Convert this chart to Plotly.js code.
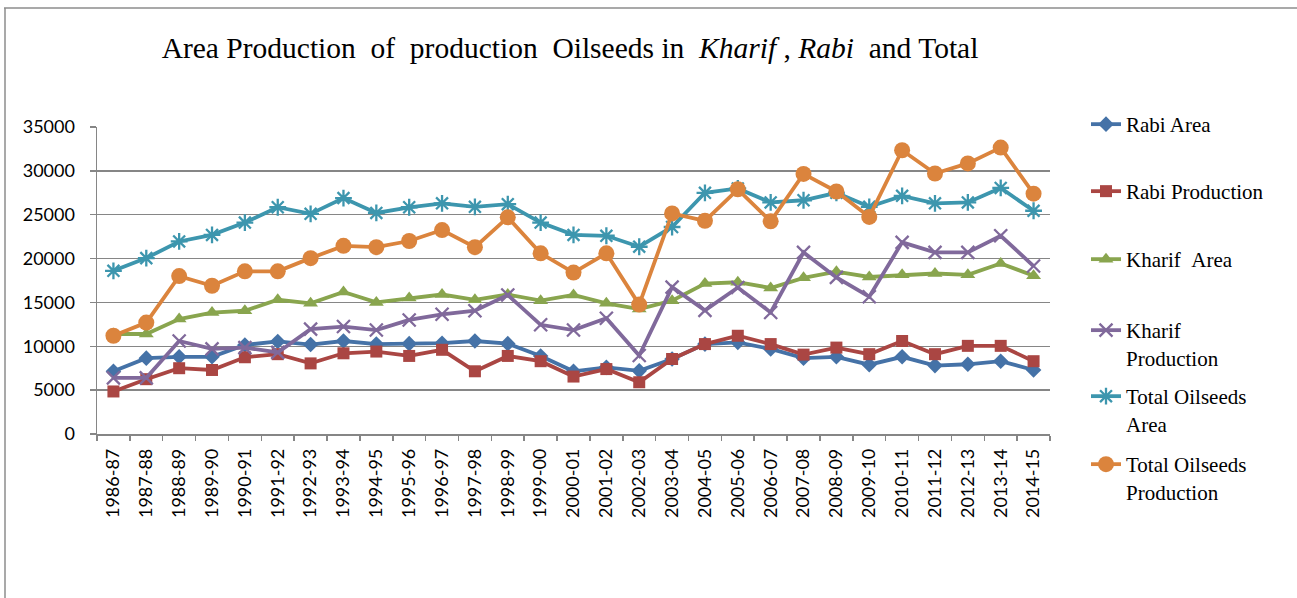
<!DOCTYPE html>
<html>
<head>
<meta charset="utf-8">
<script src="https://cdn.plot.ly/plotly-3.0.1.min.js"></script>
<style>
html,body{margin:0;padding:0;background:#fff;}
#chart{width:1297px;height:598px;}
</style>
</head>
<body>
<div id="chart"></div>
<script>
const years = ["1986-87","1987-88","1988-89","1989-90","1990-91","1991-92","1992-93","1993-94","1994-95","1995-96","1996-97","1997-98","1998-99","1999-00","2000-01","2001-02","2002-03","2003-04","2004-05","2005-06","2006-07","2007-08","2008-09","2009-10","2010-11","2011-12","2012-13","2013-14","2014-15"];

const rabiArea = [7150,8650,8800,8800,10150,10550,10200,10600,10250,10300,10350,10600,10300,8900,7150,7600,7200,8550,10250,10450,9700,8650,8800,7900,8800,7800,7950,8300,7300];
const rabiProduction = [4850,6250,7500,7300,8750,9100,8050,9200,9400,8900,9600,7150,8900,8300,6550,7400,5900,8550,10250,11200,10250,9050,9850,9100,10600,9100,10050,10050,8300];
const kharifArea = [11400,11400,13100,13850,14050,15300,14900,16200,15000,15500,15900,15300,15900,15200,15850,14900,14250,15200,17150,17300,16650,17800,18500,17900,18150,18300,18150,19450,18050];
const kharifProduction = [6400,6400,10600,9700,9850,9300,11950,12250,11850,13000,13650,14050,15850,12450,11850,13200,8950,16750,14100,16700,13850,20700,17850,15650,21850,20700,20700,22600,19150];
const totalArea = [18600,20050,21950,22700,24100,25850,25100,26900,25200,25850,26300,25900,26200,24100,22700,22600,21350,23600,27500,28000,26400,26650,27500,25900,27150,26300,26400,28050,25450];
const totalProduction = [11200,12700,18000,16900,18550,18550,20050,21450,21300,22000,23250,21300,24700,20600,18400,20600,14750,25150,24300,27900,24250,29650,27650,24750,32350,29700,30850,32650,27400];

const seriesNames = ["Rabi Area","Rabi Production","Kharif&#160;&#160;Area","Kharif<br>Production","Total Oilseeds<br>Area","Total Oilseeds<br>Production"];
const seriesValues = [rabiArea, rabiProduction, kharifArea, kharifProduction, totalArea, totalProduction];
const colors = ["#4572A7","#AA4643","#89A54E","#80699B","#3D96AE","#DB843D"];
const symbols = ["diamond","square","triangle-up","x-thin-open","asterisk-open","circle"];
const sizes = [12,12,13,13,14,16];
const legendCenters = [124,191,259,330,396,464];

const plotTop = 127, plotBottom = 434, plotLeft = 97, plotRight = 1050;
const ph = plotBottom - plotTop, pw = plotRight - plotLeft;

const traces = seriesValues.map((vals, i) => {
  const open = symbols[i].indexOf("open") >= 0;
  return {
    type: "scatter",
    mode: "lines+markers",
    x: years,
    y: vals,
    name: seriesNames[i],
    legend: i === 0 ? "legend" : "legend" + (i + 1),
    line: {color: colors[i], width: 3.8},
    marker: {
      symbol: symbols[i],
      size: sizes[i],
      color: colors[i],
      line: {color: colors[i], width: open ? 2.3 : 0}
    }
  };
});

const layout = {
  width: 1297,
  height: 598,
  paper_bgcolor: "#ffffff",
  plot_bgcolor: "#ffffff",
  margin: {l: plotLeft, r: 1297 - plotRight, t: plotTop, b: 598 - plotBottom, pad: 0},
  title: {
    text: "Area Production&#160; of&#160; production&#160; Oilseeds in&#160; <i>Kharif</i> , <i>Rabi</i>&#160; and Total",
    font: {family: "Liberation Serif, Times New Roman, serif", size: 29.5, color: "#000"},
    x: 570 / 1297, xref: "container", xanchor: "center",
    y: 1 - 48 / 598, yref: "container", yanchor: "middle"
  },
  xaxis: {
    type: "category",
    range: [-0.5, years.length - 0.5],
    showgrid: false,
    showline: true,
    linecolor: "#868686",
    linewidth: 1.5,
    ticks: "outside",
    tickson: "boundaries",
    ticklen: 5,
    tickcolor: "#868686",
    tickwidth: 1.5,
    tickangle: -90,
    tickfont: {family: "Lato, Calibri, sans-serif", size: 18, color: "#000"},
    ticklabelstandoff: 6,
    fixedrange: true
  },
  yaxis: {
    range: [0, 35000],
    dtick: 5000,
    tick0: 0,
    tickformat: "d",
    showgrid: true,
    gridcolor: "#868686",
    gridwidth: 1.5,
    showline: true,
    linecolor: "#868686",
    linewidth: 1.5,
    zeroline: false,
    ticks: "outside",
    ticklen: 6,
    tickcolor: "#868686",
    tickwidth: 1.5,
    tickfont: {family: "Lato, Calibri, sans-serif", size: 18, color: "#000"},
    ticklabelstandoff: 11,
    fixedrange: true
  },
  shapes: [
    {type: "line", xref: "paper", yref: "paper",
     x0: (4 - plotLeft) / pw, x1: (1300 - plotLeft) / pw,
     y0: (plotBottom - 8) / ph, y1: (plotBottom - 8) / ph,
     line: {color: "#8c8c8c", width: 1.5}},
    {type: "line", xref: "paper", yref: "paper",
     x0: (5 - plotLeft) / pw, x1: (5 - plotLeft) / pw,
     y0: (plotBottom - 8) / ph, y1: (plotBottom - 600) / ph,
     line: {color: "#8c8c8c", width: 1.5}}
  ],
  showlegend: true
};

seriesNames.forEach((n, i) => {
  const key = i === 0 ? "legend" : "legend" + (i + 1);
  layout[key] = {
    x: (1086 - plotLeft) / pw,
    xanchor: "left",
    y: (plotBottom - (legendCenters[i] - 20)) / ph,
    yanchor: "top",
    valign: "top",
    bgcolor: "rgba(0,0,0,0)",
    borderwidth: 0,
    font: {family: "Liberation Serif, Times New Roman, serif", size: 21, color: "#000"},
    tracegroupgap: 0,
    itemwidth: 30
  };
});

Plotly.newPlot("chart", traces, layout, {staticPlot: true, displayModeBar: false});
</script>
</body>
</html>
